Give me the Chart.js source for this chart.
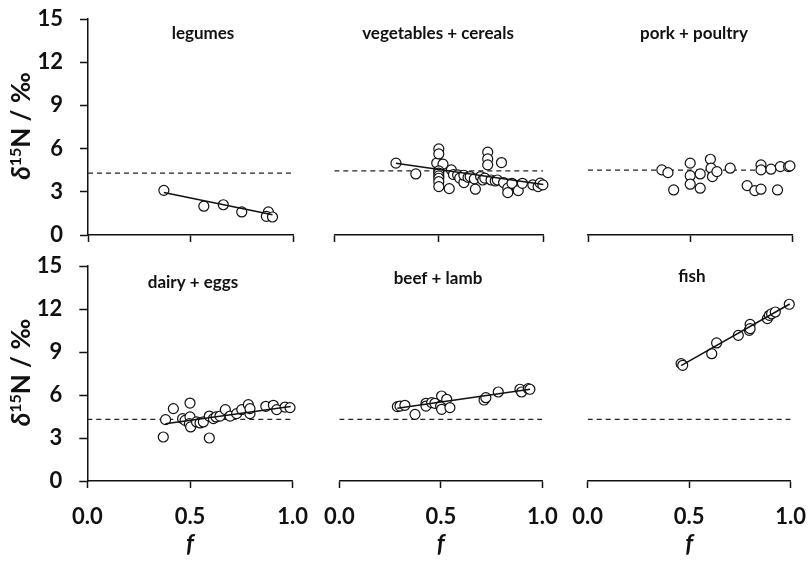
<!DOCTYPE html>
<html lang="en">
<head>
<meta charset="UTF-8">
<title>d15N vs f</title>
<script src="https://cdn.jsdelivr.net/npm/chart.js"></script>
<style>
    body, html {
        margin: 0;
        padding: 0;
        background: #fff;
    }
    #page {
        position: relative;
        width: 808px;
        height: 561px;
        overflow: hidden;
    }
    #page canvas {
        position: absolute;
    }
</style>
</head>
<body>
<div id="page"></div>

<script>
    // ---- data ----
    const xTicks = [0, 0.5, 1.0];
    const yTicks = [0, 3, 6, 9, 12, 15];

    const legumesF = [0.37, 0.565, 0.66, 0.75, 0.88, 0.87, 0.90];
    const legumesD = [3.1, 2.0, 2.1, 1.6, 1.6, 1.3, 1.25];
    const legumesFitF = [0.37, 0.90];
    const legumesFitD = [2.95, 1.4];

    const vegF = [0.295, 0.39, 0.49, 0.50, 0.50, 0.52, 0.50, 0.50, 0.50, 0.50, 0.50, 0.50, 0.55, 0.56, 0.57, 0.59,
                  0.60, 0.62, 0.62, 0.64, 0.65, 0.67, 0.675, 0.70, 0.71, 0.72, 0.734, 0.734, 0.734, 0.75, 0.77,
                  0.78, 0.80, 0.81, 0.83, 0.83, 0.85, 0.88, 0.90, 0.95, 0.975, 0.985, 0.998];
    const vegD = [4.99, 4.24, 5.0, 5.98, 5.63, 4.92, 4.45, 4.3, 4.1, 3.94, 3.7, 3.36, 3.22, 4.52, 4.2, 4.17,
                  3.95, 3.64, 4.15, 4.0, 4.06, 3.9, 3.18, 4.06, 3.82, 3.95, 5.75, 5.28, 4.87, 3.82, 3.75,
                  3.82, 5.03, 3.64, 3.25, 2.94, 3.59, 3.08, 3.59, 3.48, 3.36, 3.6, 3.48];
    const vegFitF = [0.295, 1.0];
    const vegFitD = [4.99, 3.5];

    const porkF = [0.362, 0.392, 0.42, 0.501, 0.501, 0.501, 0.55, 0.55, 0.60, 0.603, 0.61, 0.632, 0.697,
                   0.78, 0.818, 0.848, 0.848, 0.848, 0.897, 0.929, 0.943, 0.983, 0.99];
    const porkD = [4.52, 4.33, 3.13, 4.99, 4.12, 3.53, 4.24, 3.25, 5.26, 4.64, 4.06, 4.4, 4.64,
                   3.43, 3.08, 3.18, 4.87, 4.52, 4.57, 3.13, 4.75, 4.75, 4.8];

    const dairyF = [0.37, 0.381, 0.419, 0.464, 0.476, 0.5, 0.5, 0.497, 0.503, 0.532, 0.549, 0.565, 0.594, 0.594,
                    0.614, 0.627, 0.646, 0.672, 0.695, 0.727, 0.752, 0.784, 0.792, 0.792, 0.869, 0.906, 0.922,
                    0.963, 0.987];
    const dairyD = [3.07, 4.28, 5.05, 4.35, 4.23, 5.44, 4.47, 4.0, 3.77, 4.12, 4.05, 4.12, 4.53, 3.0,
                    4.35, 4.47, 4.53, 4.98, 4.53, 4.7, 4.98, 5.33, 4.7, 5.05, 5.21, 5.28, 4.98,
                    5.16, 5.12];
    const dairyFitF = [0.38, 0.99];
    const dairyFitD = [4.0, 5.2];

    const beefF = [0.286, 0.299, 0.323, 0.373, 0.427, 0.427, 0.455, 0.471, 0.504, 0.499, 0.504, 0.529, 0.545,
                   0.713, 0.722, 0.783, 0.89, 0.898, 0.931, 0.939];
    const beefD = [5.19, 5.23, 5.28, 4.65, 5.42, 5.23, 5.47, 5.42, 5.93, 5.23, 5.0, 5.7, 5.12,
                   5.65, 5.81, 6.21, 6.4, 6.21, 6.44, 6.4];
    const beefFitF = [0.286, 0.94];
    const beefFitD = [5.08, 6.4];

    const fishF = [0.46, 0.468, 0.611, 0.635, 0.742, 0.796, 0.8, 0.8, 0.885, 0.895, 0.906, 0.924, 0.993];
    const fishD = [8.19, 8.07, 8.88, 9.63, 10.16, 10.51, 10.93, 10.63, 11.33, 11.56, 11.67, 11.79, 12.33];
    const fishFitF = [0.46, 0.995];
    const fishFitD = [8.05, 12.35];

    const baselineD = [4.3, 4.45, 4.5, 4.3, 4.3, 4.3];

    // ---- panel placement (page pixels); canvases overlap, they are transparent ----
    const panels = [
        { title: 'legumes', f: legumesF, d: legumesD, fitF: legumesFitF, fitD: legumesFitD,
          box: [0, -30, 330, 280], area: [88, 19, 293, 235], titleAt: [203, 34], left: true, bottom: false },
        { title: 'vegetables + cereals', f: vegF, d: vegD, fitF: vegFitF, fitD: vegFitD,
          box: [295, 0, 580, 250], area: [334.3, 19, 543.3, 235], titleAt: [438, 34], left: false, bottom: false },
        { title: 'pork + poultry', f: porkF, d: porkD, fitF: null, fitD: null,
          box: [545, 0, 830, 250], area: [588, 19, 792, 235], titleAt: [694, 34], left: false, bottom: false },
        { title: 'dairy + eggs', f: dairyF, d: dairyD, fitF: dairyFitF, fitD: dairyFitD,
          box: [0, 225, 330, 561], area: [87.3, 266, 292.7, 481], titleAt: [193, 283], left: true, bottom: true },
        { title: 'beef + lamb', f: beefF, d: beefD, fitF: beefFitF, fitD: beefFitD,
          box: [295, 250, 580, 561], area: [339.3, 266, 542.3, 481], titleAt: [438, 279], left: false, bottom: true },
        { title: 'fish', f: fishF, d: fishD, fitF: fishFitF, fitD: fishFitD,
          box: [545, 250, 830, 561], area: [587.7, 266, 790.7, 481], titleAt: [692, 277], left: false, bottom: true }
    ];

    const FONT = 'Lato, "Open Sans", sans-serif';
    const INK = '#111';
    const Y_AXIS_W = 60;      // fixed width of the left value axis
    const X_AXIS_H_TOP = 10;  // fixed heights of the f axis
    const X_AXIS_H_BOT = 78;

    Chart.defaults.font.family = FONT;
    Chart.defaults.color = INK;

    // panel name inside the plot + the delta-15N axis label
    const panelText = {
        id: 'panelText',
        afterDraw(chart, args, opts) {
            const ctx = chart.ctx;
            ctx.save();
            ctx.fillStyle = INK;
            ctx.textAlign = 'center';
            ctx.textBaseline = 'middle';
            ctx.font = 'bold 17px ' + FONT;
            ctx.fillText(opts.title, opts.tx, opts.ty);

            if (opts.yTitle) {
                ctx.translate(opts.yx, opts.yy);
                ctx.rotate(-Math.PI / 2);
                ctx.textAlign = 'left';
                ctx.textBaseline = 'alphabetic';
                const parts = [
                    ['italic bold 26px ' + FONT, 'δ', 0],
                    ['bold 16px ' + FONT, '15', -9],
                    ['bold 26px ' + FONT, 'N / ‰', 0]
                ];
                let w = 0;
                parts.forEach(p => { ctx.font = p[0]; w += ctx.measureText(p[1]).width; });
                let x = -w / 2;
                parts.forEach(p => {
                    ctx.font = p[0];
                    ctx.fillText(p[1], x, 9 + p[2]);
                    x += ctx.measureText(p[1]).width;
                });
            }
            ctx.restore();
        }
    };

    const page = document.getElementById('page');

    panels.forEach((p, i) => {
        const [bx0, by0, bx1, by1] = p.box;
        const [ax0, ay0, ax1, ay1] = p.area;
        const xAxisH = p.bottom ? X_AXIS_H_BOT : X_AXIS_H_TOP;
        const canvas = document.createElement('canvas');
        canvas.width = bx1 - bx0;
        canvas.height = by1 - by0;
        canvas.style.left = bx0 + 'px';
        canvas.style.top = by0 + 'px';
        page.appendChild(canvas);

        const datasets = [
            {
                type: 'line',
                data: xTicks.filter((v, k) => k !== 1).map(f => ({ x: f, y: baselineD[i] })),
                borderColor: '#222',
                borderWidth: 1.3,
                borderDash: [5, 4],
                pointRadius: 0,
                order: 3
            },
            {
                type: 'scatter',
                data: p.f.map((f, k) => ({ x: f, y: p.d[k] })),
                pointRadius: 5,
                pointBorderWidth: 1.2,
                borderColor: INK,
                backgroundColor: '#fff',
                clip: false,
                order: 2
            }
        ];
        if (p.fitF) {
            datasets.push({
                type: 'line',
                data: p.fitF.map((f, k) => ({ x: f, y: p.fitD[k] })),
                borderColor: INK,
                borderWidth: 1.5,
                pointRadius: 0,
                clip: false,
                order: 1
            });
        }

        const chart = new Chart(canvas, {
            type: 'scatter',
            data: { datasets: datasets },
            plugins: [panelText],
            options: {
                responsive: false,
                animation: false,
                layout: {
                    padding: {
                        left: (ax0 - bx0) - (p.left ? Y_AXIS_W : 0),
                        right: bx1 - ax1,
                        top: ay0 - by0,
                        bottom: (by1 - ay1) - xAxisH
                    }
                },
                plugins: {
                    legend: { display: false },
                    tooltip: { enabled: false },
                    panelText: {
                        title: p.title,
                        tx: p.titleAt[0] - bx0,
                        ty: p.titleAt[1] - by0,
                        yTitle: p.left,
                        yx: 21 - bx0,
                        yy: (ay0 + ay1) / 2 - 1 - by0
                    }
                },
                scales: {
                    x: {
                        type: 'linear',
                        min: xTicks[0],
                        max: xTicks[xTicks.length - 1],
                        afterBuildTicks: s => { s.ticks = xTicks.map(v => ({ value: v })); },
                        afterFit: s => { s.height = xAxisH; },
                        border: { color: INK, width: 1.5 },
                        grid: {
                            drawOnChartArea: false,
                            drawTicks: true,
                            tickLength: 7,
                            tickColor: INK,
                            tickWidth: 1.5
                        },
                        ticks: {
                            display: p.bottom,
                            padding: 16,
                            color: INK,
                            font: { size: 22, weight: 'bold' },
                            callback: v => v.toFixed(1)
                        },
                        title: {
                            display: p.bottom,
                            text: 'f',
                            color: INK,
                            font: { size: 24, weight: 'bold', style: 'italic' },
                            padding: { top: 0, bottom: 0 }
                        }
                    },
                    y: {
                        type: 'linear',
                        display: p.left,
                        min: yTicks[0],
                        max: yTicks[yTicks.length - 1],
                        afterBuildTicks: s => { s.ticks = yTicks.map(v => ({ value: v })); },
                        afterFit: s => { if (p.left) s.width = Y_AXIS_W; },
                        border: { color: INK, width: 1.5 },
                        grid: {
                            drawOnChartArea: false,
                            drawTicks: true,
                            tickLength: 8,
                            tickColor: INK,
                            tickWidth: 1.5
                        },
                        ticks: {
                            padding: 17,
                            color: INK,
                            font: { size: 22, weight: 'bold' }
                        }
                    }
                }
            }
        });

        // nudge the padding until the plot area sits where it sits in the figure
        for (let k = 0; k < 4; k++) {
            const ca = chart.chartArea;
            const pad = chart.options.layout.padding;
            pad.left += (ax0 - bx0) - ca.left;
            pad.top += (ay0 - by0) - ca.top;
            pad.right += ca.right - (ax1 - bx0);
            pad.bottom += ca.bottom - (ay1 - by0);
            chart.update('none');
        }
    });
</script>
</body>
</html>
